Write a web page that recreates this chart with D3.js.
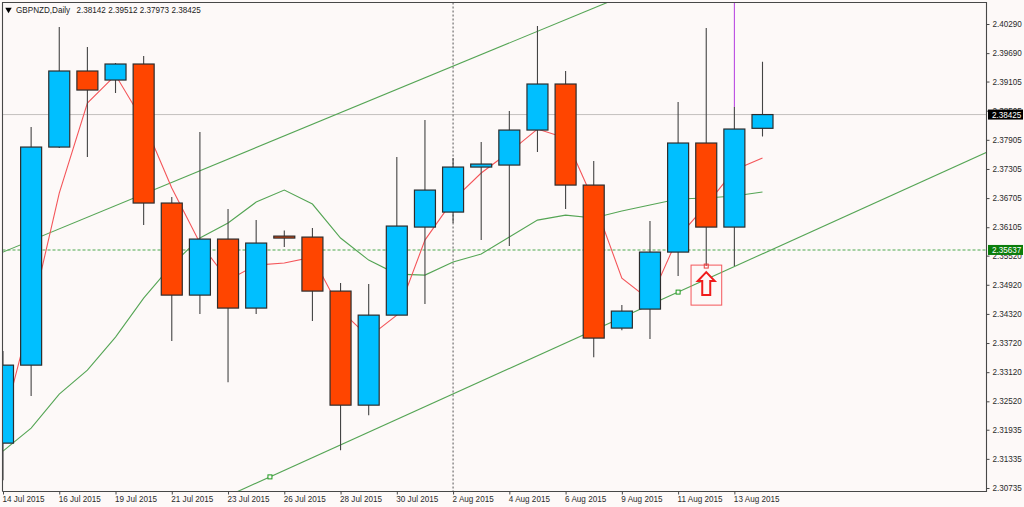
<!DOCTYPE html>
<html><head><meta charset="utf-8">
<script src="https://cdn.jsdelivr.net/npm/d3@7/dist/d3.min.js"></script>
<style>html,body{margin:0;padding:0;background:#fdf9f8;overflow:hidden}svg{display:block}text{font-family:"Liberation Sans",Arial,sans-serif}</style>
</head><body><svg id="c" width="1024" height="507"></svg>
<script>
const symbol = "GBPNZD,Daily";
const quote = "2.38142 2.39512 2.37973 2.38425";
const opens  = [2.31659,2.33265,2.37756,2.39322,2.39136,2.39466,2.36603,2.34707,2.35861,2.34440,2.35922,2.35902,2.34790,2.32441,2.34295,2.36108,2.36417,2.37344,2.37385,2.38106,2.39054,2.36973,2.34028,2.34419,2.35593,2.37839,2.36108,2.38142];
const highs  = [2.33554,2.38168,2.40228,2.39816,2.39487,2.39631,2.36726,2.38065,2.36479,2.36252,2.36040,2.36088,2.34955,2.34934,2.37550,2.38312,2.37530,2.37859,2.38498,2.40249,2.39322,2.37468,2.34501,2.36232,2.38683,2.40208,2.38580,2.39512];
const lows   = [2.30896,2.32627,2.37736,2.37550,2.38869,2.36149,2.33760,2.34316,2.32915,2.34316,2.35696,2.34172,2.31514,2.32235,2.34295,2.34522,2.36191,2.35840,2.35717,2.37653,2.36479,2.33430,2.33986,2.33801,2.35099,2.35305,2.35305,2.37973];
const closes = [2.33265,2.37756,2.39322,2.38930,2.39466,2.36603,2.34707,2.35861,2.34440,2.35779,2.35882,2.34790,2.32441,2.34295,2.36129,2.36870,2.37344,2.37406,2.38106,2.39054,2.36973,2.33822,2.34378,2.35593,2.37839,2.36108,2.38127,2.38425];
const fastAverage = [2.32050,2.34295,2.36809,2.38663,2.39239,2.38271,2.36912,2.35779,2.35016,2.35325,2.35367,2.35490,2.34398,2.33842,2.34295,2.35840,2.36664,2.37221,2.37653,2.38127,2.37942,2.36644,2.35058,2.34604,2.35902,2.36561,2.37282,2.37530];
const slowAverage = [2.31494,2.31968,2.32668,2.33162,2.33842,2.34646,2.35325,2.35882,2.36191,2.36623,2.36870,2.36582,2.35882,2.35428,2.35140,2.35119,2.35387,2.35552,2.35902,2.36252,2.36355,2.36294,2.36438,2.36561,2.36685,2.36706,2.36747,2.36829];
const upperChannelBars = [-1,22];
const upperChannelPrices = [2.35354,2.40857];
const lowerChannelBars = [8,36];
const lowerChannelPrices = [2.30573,2.37919];
const anchorBars = [9.49,24];
const anchorPrices = [2.30964,2.34769];
const priceTicks = [2.4029,2.3969,2.39105,2.38505,2.37905,2.37305,2.36705,2.36105,2.3552,2.3492,2.3432,2.3372,2.3312,2.3252,2.31935,2.31335,2.30735];
const dateBars = [0,2,4,6,8,10,12,14,16,18,20,22,24,26];
const dateLabels = ["14 Jul 2015","16 Jul 2015","19 Jul 2015","21 Jul 2015","23 Jul 2015","26 Jul 2015","28 Jul 2015","30 Jul 2015","2 Aug 2015","4 Aug 2015","6 Aug 2015","9 Aug 2015","11 Aug 2015","13 Aug 2015"];
const lastPrice = 2.38425, levelPrice = 2.35637, crosshairBar = 16;
const spikeBar = 26, spikePrices = [2.38580,2.40723];
const alertBar = 25, alertBoxBars = [24.46,25.55], alertBoxPrices = [2.35325,2.34501], alertArrowPrice = 2.35181, alertMarkPrice = 2.35305;

const L=2.5,R=986.5,T=2.5,B=491.5, fs="8.15px";
const x=d3.scaleLinear().domain([0,27]).range([3,762.5]);
const y=d3.scaleLinear().domain([2.4029,2.30735]).range([24,488]);
const bg="#fdf9f8", up="#00bfff", down="#ff4500", ink="#2d2d2d";
const svg=d3.select("#c");
svg.append("rect").attr("width",1024).attr("height",507).attr("fill",bg);
svg.append("defs").append("clipPath").attr("id","plot").append("rect").attr("x",L).attr("y",T).attr("width",R-L).attr("height",B-T);
const g=svg.append("g").attr("clip-path","url(#plot)");
const hline=(p,c,d,w)=>g.append("line").attr("x1",L).attr("x2",R).attr("y1",y(p)).attr("y2",y(p)).attr("stroke",c).attr("stroke-dasharray",d).attr("stroke-width",w);
hline(lastPrice,"#c4c0be",null,1);
hline(levelPrice,"#4ea94e","3 2",1.1);
g.append("line").attr("x1",x(crosshairBar)).attr("x2",x(crosshairBar)).attr("y1",T).attr("y2",B).attr("stroke","#555").attr("stroke-dasharray","2 2").attr("stroke-width",1);
const ln=d3.line().x(d=>x(d[0])).y(d=>y(d[1]));
const pairs=(a,b)=>a.map((v,i)=>[v,b[i]]);
const green="#55a555";
[[upperChannelBars,upperChannelPrices],[lowerChannelBars,lowerChannelPrices]].forEach(([a,b])=>g.append("path").attr("d",ln(pairs(a,b))).attr("fill","none").attr("stroke",green).attr("stroke-width",1.1));
g.append("path").attr("d",ln(slowAverage.map((v,i)=>[i,v]))).attr("fill","none").attr("stroke",green).attr("stroke-width",1.1);
g.append("path").attr("d",ln(fastAverage.map((v,i)=>[i,v]))).attr("fill","none").attr("stroke","#f4565a").attr("stroke-width",1.1);
g.selectAll(".anchor").data(pairs(anchorBars,anchorPrices)).join("rect").attr("x",d=>x(d[0])-2).attr("y",d=>y(d[1])-2).attr("width",4).attr("height",4).attr("fill",bg).attr("stroke","#1f9a1f").attr("stroke-width",1);
g.append("line").attr("x1",x(spikeBar)).attr("x2",x(spikeBar)).attr("y1",y(spikePrices[0])).attr("y2",y(spikePrices[1])).attr("stroke","#b43be0").attr("stroke-width",1);
const idx=d3.range(opens.length), bw=21;
g.selectAll(".wick").data(idx).join("line").attr("x1",i=>x(i)).attr("x2",i=>x(i)).attr("y1",i=>y(highs[i])).attr("y2",i=>y(lows[i])).attr("stroke","#444").attr("stroke-width",1.1);
g.selectAll(".body").data(idx).join("rect")
 .attr("x",i=>x(i)-bw/2).attr("width",bw)
 .attr("y",i=>y(Math.max(opens[i],closes[i])))
 .attr("height",i=>Math.abs(y(opens[i])-y(closes[i])))
 .attr("fill",i=>closes[i]>=opens[i]?up:down).attr("stroke",ink).attr("stroke-width",1.2);
const bx=x(alertBoxBars[0]),bx2=x(alertBoxBars[1]),by=y(alertBoxPrices[0]),by2=y(alertBoxPrices[1]);
g.append("rect").attr("x",bx).attr("y",by).attr("width",bx2-bx).attr("height",by2-by).attr("fill","none").attr("stroke","#f4565a").attr("stroke-width",1);
const ax=x(alertBar),ay=y(alertArrowPrice);
const arrowShape=[[0,0],[8.5,9],[4,9],[4,23],[-4,23],[-4,9],[-8.5,9]];
g.append("path").attr("d",d3.line()(arrowShape.map(p=>[ax+p[0],ay+p[1]]))+"Z").attr("fill",bg).attr("stroke","#f01c1c").attr("stroke-width",2);
g.append("rect").attr("x",ax-2).attr("y",y(alertMarkPrice)-2).attr("width",4).attr("height",4).attr("fill","none").attr("stroke","#e84040").attr("stroke-width",1);
svg.append("path").attr("d",`M${L},${B}V${T}H${R}V${B}H${L}`).attr("fill","none").attr("stroke","#484848").attr("stroke-width",1.1);
const yAxis=svg.append("g").attr("transform",`translate(${R},0)`).call(d3.axisRight(y).tickValues(priceTicks).tickFormat(d3.format(".5f")).tickSize(3).tickPadding(3));
const xAxis=svg.append("g").attr("transform",`translate(0,${B})`).call(d3.axisBottom(x).tickValues(dateBars).tickFormat((d,i)=>dateLabels[i]).tickSize(3).tickPadding(1));
[yAxis,xAxis].forEach(a=>{a.select(".domain").remove();a.selectAll("line").attr("stroke","#484848");a.selectAll("text").attr("fill","#2b2b2b").style("font-size",fs).style("font-family",'"Liberation Sans",Arial,sans-serif');});
xAxis.selectAll("text").attr("text-anchor","start").attr("dx","-1").attr("dy","0.75em");
const tag=(p,fill,h)=>{const yy=y(p);svg.append("rect").attr("x",988).attr("y",yy-h/2).attr("width",35).attr("height",h).attr("fill",fill);
 svg.append("text").attr("x",992).attr("y",yy+3).attr("fill","#fff").style("font-size",fs).text(d3.format(".5f")(p));};
tag(lastPrice,"#000",10);
tag(levelPrice,"#0a7d0a",10);
svg.append("path").attr("d",d3.symbol(d3.symbolTriangle,18)()).attr("transform","translate(8.5,9.5) rotate(180)").attr("fill","#000");
svg.append("text").attr("x",16).attr("y",12.5).attr("fill","#222").style("font-size",fs).text(symbol);
svg.append("text").attr("x",76.5).attr("y",12.5).attr("fill","#222").style("font-size",fs).text(quote);
</script></body></html>
